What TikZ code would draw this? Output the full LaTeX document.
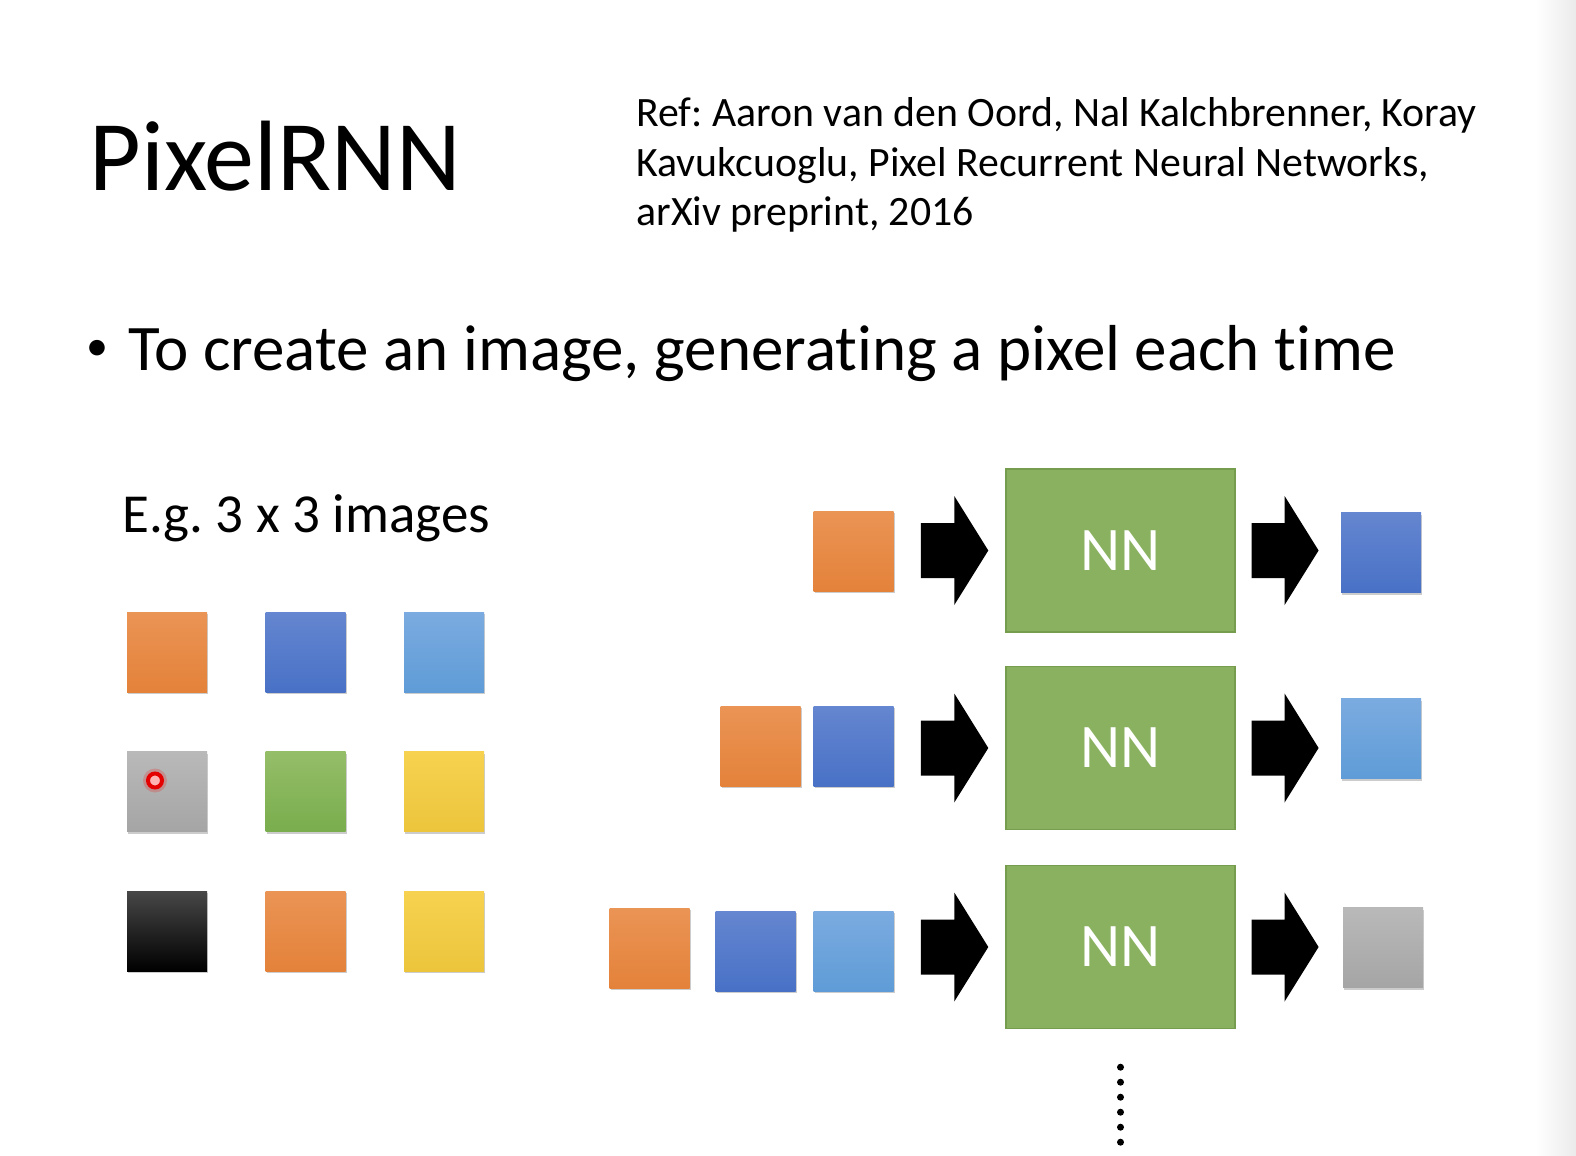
\documentclass[tikz,border=0pt]{standalone}
\usepackage{fontspec}
\setmainfont{Carlito}[Ligatures=NoCommon]
\usetikzlibrary{calc,shadows}

\definecolor{orangeT}{HTML}{EA9455}
\definecolor{orangeB}{HTML}{E4823A}
\definecolor{blueT}{HTML}{6586D0}
\definecolor{blueB}{HTML}{4871C6}
\definecolor{lblueT}{HTML}{7BABE0}
\definecolor{lblueB}{HTML}{5F9CD7}
\definecolor{grayT}{HTML}{B9B9B9}
\definecolor{grayB}{HTML}{A5A5A5}
\definecolor{greenT}{HTML}{95BE69}
\definecolor{greenB}{HTML}{79AD4D}
\definecolor{yellowT}{HTML}{F6D250}
\definecolor{yellowB}{HTML}{ECC53C}
\definecolor{nnfill}{HTML}{8AB160}
\definecolor{nnedge}{HTML}{769C4E}

\newcommand{\pxtitle}{\fontsize{50}{60}\selectfont}
\newcommand{\pxref}{\fontsize{20.9}{24.75}\selectfont}
\newcommand{\pxbullet}{\fontsize{32.5}{40}\selectfont}
\newcommand{\pxeg}{\fontsize{27.5}{31}\selectfont}

% #1 tail node, #2 head node, #3 tail gap, #4 head gap, #5 row node
\newcommand{\blockarrow}[5]{%
  \fill let \p1=($(#1.east)+(#3,0)$), \p2=($(#2.west)+(-#4,0)$), \p3=(#5) in
    (\x1,{\y3+13.75pt}) -- ({\x2-17pt},{\y3+13.75pt}) -- ({\x2-17pt},{\y3+27.25pt})
    -- (\x2,\y3) -- ({\x2-17pt},{\y3-27.25pt}) -- ({\x2-17pt},{\y3-13.75pt})
    -- (\x1,{\y3-13.75pt}) -- cycle;}

\tikzset{
  pix/.style={minimum size=40pt, inner sep=0pt,
    drop shadow={shadow xshift=0.5pt, shadow yshift=-1.2pt, opacity=0.2, fill=black}},
  orangepx/.style={pix, top color=orangeT, bottom color=orangeB},
  bluepx/.style={pix, top color=blueT, bottom color=blueB},
  lbluepx/.style={pix, top color=lblueT, bottom color=lblueB},
  graypx/.style={pix, top color=grayT, bottom color=grayB},
  greenpx/.style={pix, top color=greenT, bottom color=greenB},
  yellowpx/.style={pix, top color=yellowT, bottom color=yellowB},
  blackpx/.style={pix, top color=black!72, middle color=black, bottom color=black},
  nnbox/.style={draw=nnedge, fill=nnfill, line width=0.7pt, inner sep=0pt,
    minimum width=114.5pt, minimum height=81.5pt, text=white, font=\fontsize{31}{31}\selectfont},
}

\begin{document}
\frenchspacing
\begin{tikzpicture}[x=0.5pt, y=-0.5pt]
    \useasboundingbox (0,0) rectangle (1576,1156);
    \shade[left color=white, right color=black!8] (1535,0) rectangle (1576,1156);

    % texts
    \node[anchor=base west, inner sep=0pt, font=\pxtitle] (title) at (89,191) {PixelRNN};
    \node[anchor=base west, inner sep=0pt, font=\pxref, align=left] (ref) at (636,226)
        {Ref: Aaron van den Oord, Nal Kalchbrenner, Koray\\
         Kavukcuoglu, Pixel Recurrent Neural Networks,\\
         arXiv preprint, 2016};
    \node[inner sep=0pt, font=\fontsize{22}{22}\selectfont] (bullet) at (97,350) {•};
    \node[anchor=base west, inner sep=0pt, font=\pxbullet] (point) at (128,370)
        {To create an image, generating a pixel each time};
    \node[anchor=base west, inner sep=0pt, font=\pxeg] (eg) at (122,532) {E.g. 3 x 3 images};

    % 3 x 3 image
    \foreach \s/\r/\c in {orangepx/1/1, bluepx/1/2, lbluepx/1/3,
                          graypx/2/1, greenpx/2/2, yellowpx/2/3,
                          blackpx/3/1, orangepx/3/2, yellowpx/3/3}
        \node[\s] (g\r\c) at ({167+138.5*(\c-1)}, {652+139.5*(\r-1)}) {};
    \fill[red, opacity=0.2] ($(g21)+(-12,-11)$) circle (12);
    \node[circle, draw=red!90!black, fill=white!70!red, line width=2pt,
        minimum size=7pt, inner sep=0pt] (cursor) at ($(g21)+(-12,-11)$) {};

    % networks
    \node[nnbox] (nn1) at (1120.5,550.5) {NN};
    \node[nnbox] (nn2) at (1120.5,748) {NN};
    \node[nnbox] (nn3) at (1120.5,947) {NN};

    \node[orangepx] (in11) at (853.5,551) {};
    \node[orangepx] (in21) at (760.5,746) {};
    \node[bluepx] (in22) at (853.5,746) {};
    \node[orangepx] (in31) at (649.5,948) {};
    \node[bluepx] (in32) at (755.5,951) {};
    \node[lbluepx] (in33) at (853.5,951) {};

    \node[bluepx] (out1) at (1381,552.5) {};
    \node[lbluepx] (out2) at (1381,738.5) {};
    \node[graypx] (out3) at (1383,947.5) {};

    \blockarrow{in11}{nn1}{27}{17}{nn1}
    \blockarrow{nn1}{out1}{16}{22}{nn1}
    \blockarrow{in22}{nn2}{27}{17}{nn2}
    \blockarrow{nn2}{out2}{16}{22}{nn2}
    \blockarrow{in33}{nn3}{27}{17}{nn3}
    \blockarrow{nn3}{out3}{16}{24}{nn3}

    \foreach \k in {0,...,5}
        \fill ($(nn3.south)+(0,38+15*\k)$) circle (3.5);
\end{tikzpicture}
\end{document}
